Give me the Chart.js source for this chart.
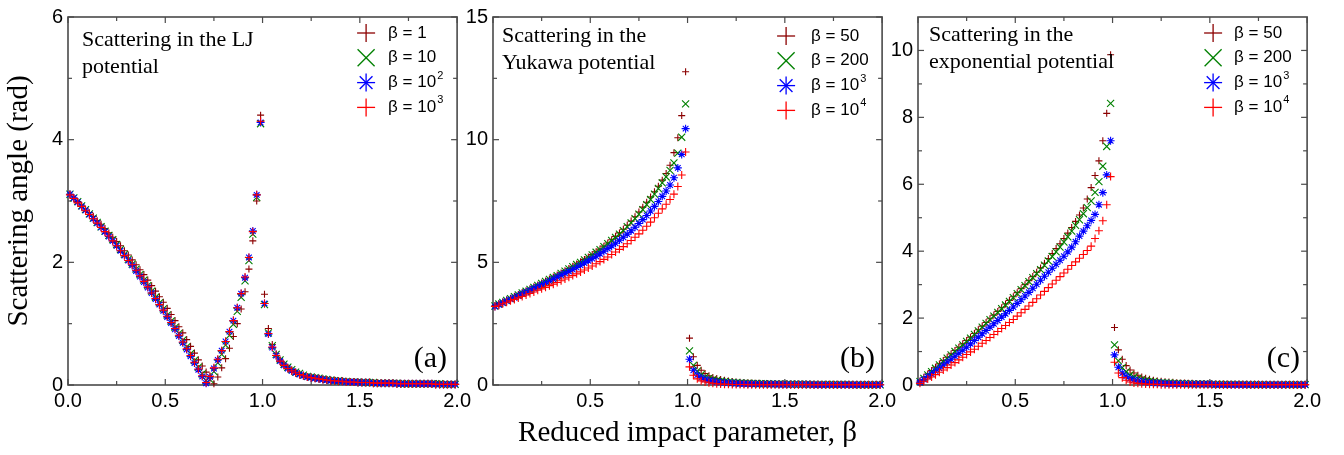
<!DOCTYPE html>
<html>
<head>
<meta charset="utf-8">
<script src="https://cdn.jsdelivr.net/npm/chart.js@4.4.1/dist/chart.umd.min.js"></script>
<style>
  html, body { margin: 0; padding: 0; background: #fff; }
  #fig { position: relative; width: 1344px; height: 455px; overflow: hidden; background: #fff; }
  #fig canvas { position: absolute; top: 0; }
</style>
</head>
<body>
<div id="fig">
  <canvas id="panelA" width="475" height="455" style="left:0px;width:475px;height:455px"></canvas>
  <canvas id="panelB" width="447" height="455" style="left:453px;width:447px;height:455px"></canvas>
  <canvas id="panelC" width="447" height="455" style="left:878px;width:447px;height:455px"></canvas>
</div>
<script>
// reduced impact parameter (same grid for every curve)
const impact = [
  0.01,0.03,0.05,0.07,0.09,0.11,0.13,0.15,0.17,0.19,
  0.21,0.23,0.25,0.27,0.29,0.31,0.33,0.35,0.37,0.39,
  0.41,0.43,0.45,0.47,0.49,0.51,0.53,0.55,0.57,0.59,
  0.61,0.63,0.65,0.67,0.69,0.71,0.73,0.75,0.77,0.79,
  0.81,0.83,0.85,0.87,0.89,0.91,0.93,0.95,0.97,0.99,
  1.01,1.03,1.05,1.07,1.09,1.11,1.13,1.15,1.17,1.19,
  1.21,1.23,1.25,1.27,1.29,1.31,1.33,1.35,1.37,1.39,
  1.41,1.43,1.45,1.47,1.49,1.51,1.53,1.55,1.57,1.59,
  1.61,1.63,1.65,1.67,1.69,1.71,1.73,1.75,1.77,1.79,
  1.81,1.83,1.85,1.87,1.89,1.91,1.93,1.95,1.97,1.99
];

// (a) LJ potential
const ljBeta1 = [
  3.11,3.05,2.99,2.93,2.87,2.81,2.75,2.68,2.62,2.55,
  2.48,2.41,2.34,2.27,2.19,2.12,2.04,1.96,1.88,1.80,
  1.71,1.62,1.53,1.44,1.35,1.25,1.15,1.05,0.95,0.85,
  0.74,0.63,0.52,0.41,0.31,0.21,0.11,0.02,0.13,0.28,
  0.43,0.60,0.79,1.00,1.24,1.52,1.89,2.35,3.00,4.40,
  1.48,0.92,0.66,0.51,0.41,0.34,0.29,0.25,0.21,0.18,
  0.16,0.14,0.13,0.11,0.10,0.09,0.09,0.08,0.07,0.07,
  0.06,0.06,0.05,0.05,0.05,0.04,0.04,0.04,0.04,0.03,
  0.03,0.03,0.03,0.03,0.03,0.02,0.02,0.02,0.02,0.02,
  0.02,0.02,0.02,0.02,0.02,0.01,0.01,0.01,0.01,0.01
];
const ljBeta10 = [
  3.11,3.05,2.99,2.92,2.86,2.79,2.72,2.65,2.58,2.51,
  2.44,2.37,2.29,2.21,2.13,2.05,1.97,1.89,1.80,1.71,
  1.62,1.53,1.43,1.34,1.24,1.14,1.04,0.94,0.84,0.73,
  0.62,0.51,0.40,0.29,0.18,0.07,0.09,0.22,0.36,0.50,
  0.65,0.81,0.99,1.20,1.43,1.70,2.03,2.46,3.06,4.26,
  1.31,0.85,0.64,0.50,0.41,0.34,0.29,0.25,0.21,0.19,
  0.16,0.14,0.13,0.12,0.11,0.10,0.09,0.08,0.07,0.07,
  0.06,0.06,0.05,0.05,0.05,0.04,0.04,0.04,0.04,0.03,
  0.03,0.03,0.03,0.03,0.03,0.02,0.02,0.02,0.02,0.02,
  0.02,0.02,0.02,0.02,0.02,0.02,0.01,0.01,0.01,0.01
];
const ljBeta100 = [
  3.11,3.05,2.98,2.91,2.85,2.78,2.71,2.64,2.57,2.50,
  2.42,2.35,2.27,2.19,2.11,2.03,1.95,1.86,1.77,1.68,
  1.59,1.50,1.40,1.31,1.21,1.11,1.01,0.91,0.80,0.69,
  0.58,0.47,0.36,0.25,0.14,0.03,0.13,0.27,0.41,0.56,
  0.71,0.87,1.05,1.26,1.49,1.75,2.08,2.51,3.10,4.28,
  1.33,0.83,0.61,0.48,0.39,0.32,0.27,0.23,0.20,0.17,
  0.15,0.13,0.12,0.11,0.10,0.09,0.08,0.07,0.07,0.06,
  0.06,0.05,0.05,0.05,0.04,0.04,0.04,0.04,0.03,0.03,
  0.03,0.03,0.03,0.03,0.02,0.02,0.02,0.02,0.02,0.02,
  0.02,0.02,0.02,0.02,0.01,0.01,0.01,0.01,0.01,0.01
];
const ljBeta1000 = [
  3.10,3.04,2.97,2.91,2.84,2.78,2.71,2.64,2.57,2.50,
  2.43,2.35,2.27,2.19,2.11,2.03,1.96,1.87,1.78,1.69,
  1.60,1.50,1.41,1.31,1.22,1.12,1.02,0.92,0.81,0.70,
  0.59,0.48,0.37,0.26,0.15,0.04,0.14,0.28,0.42,0.56,
  0.71,0.87,1.05,1.26,1.49,1.76,2.08,2.50,3.10,4.30,
  1.33,0.84,0.62,0.48,0.39,0.32,0.27,0.23,0.20,0.17,
  0.15,0.13,0.12,0.11,0.10,0.09,0.08,0.07,0.07,0.06,
  0.06,0.05,0.05,0.05,0.04,0.04,0.04,0.04,0.03,0.03,
  0.03,0.03,0.03,0.03,0.02,0.02,0.02,0.02,0.02,0.02,
  0.02,0.02,0.02,0.02,0.01,0.01,0.01,0.01,0.01,0.01
];

// (b) Yukawa potential
const yukBeta50 = [
  3.24,3.32,3.39,3.47,3.54,3.62,3.69,3.77,3.84,3.92,
  4.00,4.08,4.16,4.24,4.32,4.40,4.48,4.57,4.66,4.75,
  4.84,4.93,5.02,5.12,5.22,5.32,5.43,5.54,5.66,5.79,
  5.92,6.06,6.20,6.35,6.51,6.68,6.86,7.05,7.25,7.45,
  7.66,7.88,8.10,8.35,8.62,8.96,9.47,10.08,10.98,12.77,
  1.91,1.15,0.80,0.60,0.47,0.38,0.31,0.26,0.22,0.19,
  0.16,0.14,0.12,0.11,0.10,0.09,0.08,0.07,0.07,0.06,
  0.06,0.05,0.05,0.05,0.04,0.04,0.04,0.04,0.03,0.03,
  0.03,0.03,0.03,0.03,0.02,0.02,0.02,0.02,0.02,0.02,
  0.02,0.02,0.02,0.02,0.02,0.01,0.01,0.01,0.01,0.01
];
const yukBeta200 = [
  3.22,3.30,3.37,3.45,3.52,3.60,3.67,3.75,3.82,3.90,
  3.98,4.06,4.14,4.22,4.30,4.38,4.46,4.55,4.64,4.73,
  4.82,4.91,5.00,5.10,5.20,5.30,5.41,5.52,5.64,5.76,
  5.89,6.02,6.15,6.29,6.45,6.61,6.78,6.96,7.15,7.35,
  7.56,7.78,8.01,8.24,8.48,8.75,9.05,9.45,10.10,11.46,
  1.39,0.80,0.56,0.42,0.33,0.27,0.22,0.19,0.16,0.14,
  0.12,0.10,0.09,0.08,0.07,0.07,0.06,0.06,0.05,0.05,
  0.05,0.04,0.04,0.04,0.04,0.03,0.03,0.03,0.03,0.03,
  0.03,0.02,0.02,0.02,0.02,0.02,0.02,0.02,0.02,0.02,
  0.02,0.02,0.01,0.01,0.01,0.01,0.01,0.01,0.01,0.01
];
const yukBeta1e3 = [
  3.20,3.27,3.34,3.42,3.49,3.56,3.63,3.71,3.78,3.85,
  3.93,4.00,4.08,4.15,4.23,4.31,4.39,4.47,4.55,4.63,
  4.71,4.79,4.88,4.97,5.06,5.15,5.25,5.35,5.45,5.56,
  5.67,5.78,5.90,6.02,6.15,6.29,6.43,6.58,6.74,6.91,
  7.09,7.28,7.48,7.69,7.91,8.15,8.45,8.85,9.40,10.45,
  1.05,0.60,0.41,0.30,0.23,0.18,0.15,0.12,0.10,0.09,
  0.08,0.07,0.06,0.05,0.05,0.04,0.04,0.04,0.03,0.03,
  0.03,0.03,0.03,0.02,0.02,0.02,0.02,0.02,0.02,0.02,
  0.02,0.02,0.01,0.01,0.01,0.01,0.01,0.01,0.01,0.01,
  0.01,0.01,0.01,0.01,0.01,0.01,0.01,0.01,0.01,0.01
];
const yukBeta1e4 = [
  3.20,3.25,3.31,3.37,3.43,3.49,3.55,3.61,3.67,3.73,
  3.79,3.86,3.92,3.98,4.05,4.11,4.18,4.25,4.32,4.39,
  4.46,4.53,4.61,4.69,4.77,4.85,4.94,5.03,5.12,5.22,
  5.32,5.42,5.53,5.64,5.76,5.89,6.02,6.16,6.31,6.47,
  6.64,6.82,7.00,7.18,7.37,7.56,7.78,8.09,8.56,9.50,
  0.74,0.40,0.25,0.17,0.12,0.09,0.07,0.05,0.04,0.03,
  0.03,0.02,0.02,0.02,0.02,0.01,0.01,0.01,0.01,0.01,
  0.01,0.01,0.01,0.01,0.01,0.01,0.01,0.01,0.01,0.01,
  0.01,0.01,0.01,0.01,0.01,0.01,0.01,0.01,0.01,0.01,
  0.01,0.01,0.01,0.01,0.01,0.01,0.01,0.01,0.01,0.01
];

// (c) exponential potential
const expBeta50 = [
  0.12,0.23,0.33,0.43,0.53,0.63,0.73,0.83,0.93,1.03,
  1.13,1.23,1.33,1.43,1.54,1.65,1.76,1.87,1.98,2.09,
  2.20,2.31,2.42,2.53,2.64,2.76,2.88,3.00,3.12,3.24,
  3.37,3.50,3.64,3.78,3.93,4.08,4.22,4.38,4.54,4.71,
  4.89,5.08,5.29,5.56,5.90,6.26,6.70,7.30,8.12,9.87,
  1.72,1.05,0.77,0.58,0.45,0.36,0.29,0.24,0.20,0.17,
  0.14,0.12,0.11,0.10,0.09,0.08,0.07,0.06,0.06,0.05,
  0.05,0.04,0.04,0.04,0.03,0.03,0.03,0.03,0.03,0.02,
  0.02,0.02,0.02,0.02,0.02,0.02,0.02,0.02,0.01,0.01,
  0.01,0.01,0.01,0.01,0.01,0.01,0.01,0.01,0.01,0.01
];
const expBeta200 = [
  0.10,0.20,0.30,0.40,0.50,0.60,0.70,0.80,0.90,1.00,
  1.10,1.20,1.30,1.40,1.51,1.62,1.73,1.84,1.95,2.06,
  2.17,2.28,2.39,2.50,2.61,2.73,2.85,2.97,3.09,3.21,
  3.33,3.45,3.58,3.71,3.84,3.98,4.12,4.27,4.43,4.60,
  4.77,4.94,5.12,5.30,5.50,5.76,6.08,6.54,7.13,8.42,
  1.20,0.72,0.52,0.39,0.30,0.24,0.19,0.16,0.13,0.11,
  0.10,0.08,0.07,0.06,0.06,0.05,0.05,0.04,0.04,0.04,
  0.03,0.03,0.03,0.03,0.03,0.02,0.02,0.02,0.02,0.02,
  0.02,0.02,0.02,0.02,0.01,0.01,0.01,0.01,0.01,0.01,
  0.01,0.01,0.01,0.01,0.01,0.01,0.01,0.01,0.01,0.01
];
const expBeta1e3 = [
  0.08,0.16,0.25,0.33,0.42,0.50,0.59,0.68,0.77,0.86,
  0.95,1.04,1.13,1.23,1.33,1.43,1.53,1.63,1.73,1.83,
  1.93,2.03,2.13,2.23,2.33,2.44,2.55,2.66,2.77,2.89,
  3.01,3.13,3.25,3.37,3.49,3.61,3.73,3.85,3.98,4.12,
  4.28,4.45,4.60,4.76,4.92,5.10,5.39,5.75,6.28,7.30,
  0.90,0.53,0.36,0.26,0.19,0.15,0.12,0.10,0.08,0.07,
  0.06,0.05,0.05,0.04,0.04,0.03,0.03,0.03,0.03,0.02,
  0.02,0.02,0.02,0.02,0.02,0.02,0.01,0.01,0.01,0.01,
  0.01,0.01,0.01,0.01,0.01,0.01,0.01,0.01,0.01,0.01,
  0.01,0.01,0.01,0.01,0.01,0.01,0.01,0.01,0.01,0.01
];
const expBeta1e4 = [
  0.05,0.11,0.18,0.24,0.31,0.38,0.45,0.52,0.60,0.67,
  0.75,0.83,0.91,0.99,1.07,1.16,1.25,1.33,1.42,1.51,
  1.60,1.69,1.78,1.87,1.96,2.06,2.16,2.26,2.36,2.47,
  2.58,2.69,2.80,2.91,3.02,3.13,3.24,3.35,3.46,3.57,
  3.68,3.79,3.90,4.02,4.15,4.38,4.61,4.91,5.39,6.23,
  0.68,0.36,0.22,0.14,0.09,0.06,0.05,0.04,0.03,0.02,
  0.02,0.02,0.01,0.01,0.01,0.01,0.01,0.01,0.01,0.01,
  0.01,0.01,0.01,0.01,0.01,0.01,0.01,0.01,0.01,0.01,
  0.01,0.01,0.01,0.01,0.01,0.01,0.01,0.01,0.01,0.01,
  0.01,0.01,0.01,0.01,0.01,0.01,0.01,0.01,0.01,0.01
];

// axis ticks
const xTicks = [0, 0.5, 1, 1.5, 2];
const xMinor = [0.25, 0.75, 1.25, 1.75];
const xLabelsA = ['0.0', '0.5', '1.0', '1.5', '2.0'];
const xLabelsBC = ['', '0.5', '1.0', '1.5', '2.0'];
const yTicksA = [0, 2, 4, 6];
const yMinorA = [1, 3, 5];
const yTicksB = [0, 5, 10, 15];
const yMinorB = [2.5, 7.5, 12.5];
const yTicksC = [0, 2, 4, 6, 8, 10];
const yMinorC = [1, 3, 5, 7, 9];

const legendA = ['β = 1', 'β = 10', 'β = 10^2', 'β = 10^3'];
const legendBC = ['β = 50', 'β = 200', 'β = 10^3', 'β = 10^4'];

const colors = ['#8b0000', '#008000', '#0000ff', '#ff0000'];
const styles = ['cross', 'crossRot', 'star', 'cross'];
const radii = [3.5, 5, 4, 4];
const legendR = [9, 12, 9, 9];

const SANS = '"Liberation Sans", Arial, sans-serif';
const SERIF = '"Liberation Serif", "Times New Roman", serif';
const FRAME = '#4a4a4a';

function line(ctx, x1, y1, x2, y2) {
  ctx.beginPath();
  ctx.moveTo(x1, y1);
  ctx.lineTo(x2, y2);
  ctx.stroke();
}

function marker(ctx, style, x, y, r, color) {
  ctx.strokeStyle = color;
  if (style === 'cross' || style === 'star') {
    line(ctx, x - r, y, x + r, y);
    line(ctx, x, y - r, x, y + r);
  }
  if (style === 'crossRot' || style === 'star') {
    const d = r * Math.SQRT1_2;
    line(ctx, x - d, y - d, x + d, y + d);
    line(ctx, x - d, y + d, x + d, y - d);
  }
}

function makePanel(id, p) {
  const deco = {
    id: 'deco',
    beforeDatasetsDraw(chart) {
      const ctx = chart.ctx;
      const {left, right, top, bottom} = chart.chartArea;
      const sx = chart.scales.x, sy = chart.scales.y;
      ctx.save();
      ctx.strokeStyle = FRAME;
      ctx.lineWidth = 1.6;
      ctx.strokeRect(left, top, right - left, bottom - top);
      ctx.lineWidth = 1.2;
      const tx = (vals, len) => vals.forEach(v => {
        const px = sx.getPixelForValue(v);
        line(ctx, px, bottom, px, bottom - len);
        line(ctx, px, top, px, top + len);
      });
      const ty = (vals, len) => vals.forEach(v => {
        const py = sy.getPixelForValue(v);
        line(ctx, left, py, left + len, py);
        line(ctx, right, py, right - len, py);
      });
      tx(xTicks, 6); tx(xMinor, 4);
      ty(p.yTicks, 6); ty(p.yMinor, 4);
      ctx.restore();
    },
    afterDraw(chart) {
      const ctx = chart.ctx;
      const {left, right} = chart.chartArea;
      ctx.save();
      ctx.fillStyle = '#000';
      // note in the upper left
      ctx.font = '22px ' + SERIF;
      ctx.textAlign = 'left';
      ctx.textBaseline = 'alphabetic';
      p.note.forEach((t, k) => ctx.fillText(t, left + p.noteDx, p.noteY + k * 27));
      // panel letter
      ctx.font = '30px ' + SERIF;
      ctx.textAlign = 'right';
      ctx.fillText(p.letter, right - p.letterDx, 367);
      // legend
      ctx.lineWidth = 1.3;
      p.legend.forEach((lab, k) => {
        const cy = p.legY + k * 24.8;
        const mx = right + p.legDx;
        marker(ctx, styles[k], mx, cy, legendR[k], colors[k]);
        const parts = lab.split('^');
        ctx.fillStyle = '#000';
        ctx.font = '17px ' + SANS;
        ctx.textAlign = 'left';
        ctx.textBaseline = 'middle';
        ctx.fillText(parts[0], mx + p.legGap, cy);
        if (parts[1]) {
          const w = ctx.measureText(parts[0]).width;
          ctx.font = '11px ' + SANS;
          ctx.fillText(parts[1], mx + p.legGap + w + 1, cy - 7);
        }
      });
      ctx.restore();
    }
  };

  return new Chart(document.getElementById(id), {
    type: 'scatter',
    data: {
      datasets: p.series.map((s, k) => ({
        label: p.legend[k],
        data: impact.map((x, i) => ({x: x, y: s[i]})),
        pointStyle: styles[k],
        pointRadius: radii[k],
        pointBorderWidth: 1.1,
        borderColor: colors[k],
        backgroundColor: colors[k],
        showLine: false,
        clip: false,
        order: 4 - k
      }))
    },
    options: {
      responsive: false,
      animation: false,
      events: [],
      layout: { padding: { left: 0, right: 16, top: 14, bottom: 0 } },
      plugins: { legend: { display: false }, tooltip: { enabled: false } },
      scales: {
        x: {
          type: 'linear', min: 0, max: 2,
          afterBuildTicks: s => { s.ticks = xTicks.map(v => ({value: v})); },
          afterFit: s => { s.height = 70; },
          grid: { display: false, drawTicks: false },
          border: { display: false },
          ticks: {
            autoSkip: false, maxRotation: 0, minRotation: 0, padding: 4,
            color: '#000', font: { family: SANS, size: 20 },
            callback: (v, i) => p.xLabels[i]
          },
          title: p.xTitle ? {
            display: true, text: p.xTitle, color: '#000',
            font: { family: SERIF, size: 29 }, padding: { top: 0, bottom: 4 }
          } : { display: false }
        },
        y: {
          type: 'linear', min: 0, max: p.yMax,
          afterBuildTicks: s => { s.ticks = p.yTicks.map(v => ({value: v})); },
          afterFit: s => { s.width = p.yWidth; },
          grid: { display: false, drawTicks: false },
          border: { display: false },
          ticks: {
            autoSkip: false, padding: 5,
            color: '#000', font: { family: SANS, size: 20 },
            callback: v => String(v)
          },
          title: p.yTitle ? {
            display: true, text: p.yTitle, color: '#000',
            font: { family: SERIF, size: 29 }, padding: { top: 2, bottom: 0 }
          } : { display: false }
        }
      }
    },
    plugins: [deco]
  });
}

makePanel('panelA', {
  series: [ljBeta1, ljBeta10, ljBeta100, ljBeta1000],
  legend: legendA, xLabels: xLabelsA,
  yMax: 6, yTicks: yTicksA, yMinor: yMinorA, yWidth: 68,
  yTitle: 'Scattering angle (rad)',
  note: ['Scattering in the LJ', 'potential'], noteDx: 14, noteY: 46,
  letter: '(a)', letterDx: 10,
  legDx: -91, legGap: 22, legY: 33
});
makePanel('panelB', {
  series: [yukBeta50, yukBeta200, yukBeta1e3, yukBeta1e4],
  legend: legendBC, xLabels: xLabelsBC,
  yMax: 15, yTicks: yTicksB, yMinor: yMinorB, yWidth: 40,
  xTitle: 'Reduced impact parameter, β',
  note: ['Scattering in the', 'Yukawa potential'], noteDx: 9, noteY: 42,
  letter: '(b)', letterDx: 7,
  legDx: -96, legGap: 25, legY: 36
});
makePanel('panelC', {
  series: [expBeta50, expBeta200, expBeta1e3, expBeta1e4],
  legend: legendBC, xLabels: xLabelsBC,
  yMax: 11, yTicks: yTicksC, yMinor: yMinorC, yWidth: 40,
  note: ['Scattering in the', 'exponential potential'], noteDx: 11, noteY: 41,
  letter: '(c)', letterDx: 7,
  legDx: -94, legGap: 21, legY: 33
});
</script>
</body>
</html>
